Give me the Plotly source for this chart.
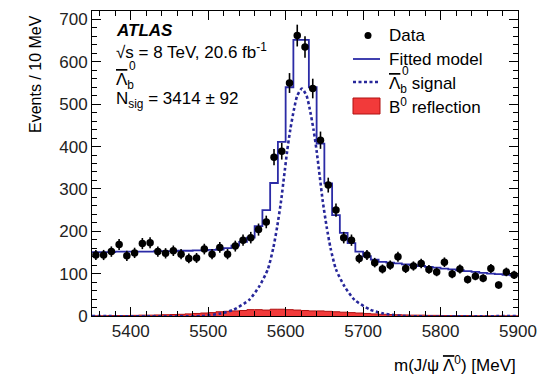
import plotly.graph_objects as go
import numpy as np

# ---------------- data ----------------
bin_edges = list(range(5350, 5901, 10))          # 10 MeV bins, 5350..5900
bin_centers = [e + 5 for e in bin_edges[:-1]]

data_counts = [144, 144, 152, 169, 142, 149, 171, 173, 152, 148,
               154, 146, 136, 137, 158, 146, 162, 146, 165, 179,
               185, 204, 222, 375, 389, 550, 662, 635, 537, 415,
               309, 250, 185, 179, 136, 144, 126, 111, 120, 140,
               112, 118, 124, 110, 104, 127, 99, 111, 86, 94,
               89, 112, 73, 104, 97]

model_counts = [151, 151, 151, 152, 152, 152, 152, 152, 153, 153,
                153, 154, 154, 155, 155, 156, 157, 160, 166, 175,
                185, 212, 250, 314, 411, 540, 652, 652, 540, 407,
                313, 238, 196, 172, 152, 141, 133, 128, 126, 124,
                122, 120, 118, 116, 114, 112, 110, 108, 106, 104,
                102, 100, 99, 97, 96]

reflection_counts = [0.5, 0.5, 1, 1, 1, 1.5, 2, 2, 2.5, 3,
                     3.5, 4, 5, 6, 7, 8, 10, 11, 12, 13,
                     15, 15, 14, 16, 16, 15, 14, 13, 12, 12,
                     11, 10, 9, 8, 7, 6, 5, 4, 3.5, 3,
                     2.5, 2, 2, 1.5, 1.5, 1, 1, 1, 1, 0.5,
                     0.5, 0.5, 0.5, 0.5, 0.5]

signal_mass = [5350, 5491, 5516, 5533, 5553, 5566, 5577, 5584, 5589, 5594,
               5598, 5602, 5606, 5611, 5615, 5621, 5627, 5631, 5636, 5640,
               5644, 5648, 5653, 5658, 5665, 5676, 5689, 5709, 5726, 5751, 5900]
signal_value = [0, 0, 6, 15, 38, 70, 110, 160, 210, 270,
                330, 390, 440, 490, 520, 537, 520, 490, 440, 390,
                330, 270, 210, 160, 110, 70, 38, 15, 6, 0, 0]

x_ticks = [5400, 5500, 5600, 5700, 5800, 5900]
y_ticks = [0, 100, 200, 300, 400, 500, 600, 700]

# ---------------- style ----------------
FONT = "Liberation Sans, Arial, Helvetica, sans-serif"
BLUE = "#2b2ba6"
DOTBLUE = "#27279a"
RED = "#f23a3a"
DARKRED = "#b01010"

W, H = 549, 374
L, R, T, B = 92, 31, 11, 58
PW, PH = W - L - R, H - T - B


def px(x):
    return (x - L) / PW


def py(y):
    return (T + PH - y) / PH


fig = go.Figure()

# B0 reflection (filled step histogram)
fig.add_trace(go.Scatter(
    x=bin_edges, y=reflection_counts + [reflection_counts[-1]],
    mode="lines", line=dict(shape="hv", color=DARKRED, width=1),
    fill="tozeroy", fillcolor=RED, showlegend=False, hoverinfo="skip"))

# signal (dotted)
fig.add_trace(go.Scatter(
    x=signal_mass, y=signal_value, mode="lines",
    line=dict(shape="spline", smoothing=0.6, color=DOTBLUE, width=2.6, dash="3px,2.5px"),
    showlegend=False, hoverinfo="skip"))

# fitted model (step)
fig.add_trace(go.Scatter(
    x=bin_edges, y=model_counts + [model_counts[-1]],
    mode="lines", line=dict(shape="hv", color=BLUE, width=1.8),
    showlegend=False, hoverinfo="skip"))

# data
fig.add_trace(go.Scatter(
    x=bin_centers, y=data_counts, mode="markers",
    marker=dict(symbol="circle", size=7.5, color="black"),
    error_y=dict(type="data", array=list(np.sqrt(data_counts)), color="black",
                 thickness=1.6, width=0),
    showlegend=False, hoverinfo="skip"))

axis_common = dict(
    showgrid=False, zeroline=False, showline=True, linecolor="black", linewidth=1,
    mirror="ticks", ticks="inside", ticklen=9, tickwidth=1, tickcolor="black",
    tickfont=dict(family=FONT, size=17, color="#222222"),
)

fig.update_xaxes(range=[5350, 5900], tickvals=x_ticks,
                 minor=dict(dtick=20, ticklen=5, ticks="inside", tickcolor="black", tickwidth=1),
                 **axis_common)
fig.update_yaxes(range=[0, 720], tickvals=y_ticks,
                 minor=dict(dtick=20, ticklen=5, ticks="inside", tickcolor="black", tickwidth=1),
                 **axis_common)

ann = []


def text(x, y, s, size=17, xanchor="left", yanchor="middle", **kw):
    ann.append(dict(x=px(x), y=py(y), xref="paper", yref="paper", text=s,
                    showarrow=False, xanchor=xanchor, yanchor=yanchor,
                    font=dict(family=FONT, size=size, color="black"), **kw))


LB = "<span style='text-decoration:overline'>\u039b</span>"  # anti-Lambda

# axis titles
text(35, 13, "Events / 10 MeV", size=16, xanchor="center", yanchor="top", textangle=-90)
text(518, 364, "m(J/\u03c8 " + LB + "<sup>0</sup>) [MeV]", size=17, xanchor="right")

# ATLAS labels
text(114, 31, "<b><i>ATLAS</i></b>", size=17)
text(114, 51, "\u221as = 8 TeV, 20.6 fb<sup>-1</sup>", size=17)
text(114, 81, LB + "<sub>b</sub>", size=17)
text(126.5, 66, "0", size=12)
text(114, 100, "N<sub>sig</sub> = 3414 \u00b1 92", size=17)

# legend
text(387, 36, "Data", size=17)
text(387, 59, "Fitted model", size=17)
text(387, 85, LB + "<sub>b</sub> signal", size=17)
text(399.5, 71, "0", size=12)
text(387, 106, "B<sup>0</sup> reflection", size=17)

shapes = [
    dict(type="circle", xref="paper", yref="paper", x0=px(364.5), x1=px(371.5), y0=py(39), y1=py(32),
         fillcolor="black", line=dict(width=0)),
    dict(type="line", xref="paper", yref="paper", x0=px(353), x1=px(380), y0=py(59), y1=py(59),
         line=dict(color=BLUE, width=1.8)),
    dict(type="line", xref="paper", yref="paper", x0=px(353), x1=px(380), y0=py(82), y1=py(82),
         line=dict(color=DOTBLUE, width=2.6, dash="3px,2.5px")),
    dict(type="rect", xref="paper", yref="paper", x0=px(353), x1=px(380), y0=py(114), y1=py(98),
         fillcolor=RED, line=dict(color=DARKRED, width=1)),
]

fig.update_layout(
    width=W, height=H, margin=dict(l=L, r=R, t=T, b=B),
    paper_bgcolor="white", plot_bgcolor="white",
    annotations=ann, shapes=shapes, showlegend=False,
    font=dict(family=FONT),
)

fig.write_html("out.html")
